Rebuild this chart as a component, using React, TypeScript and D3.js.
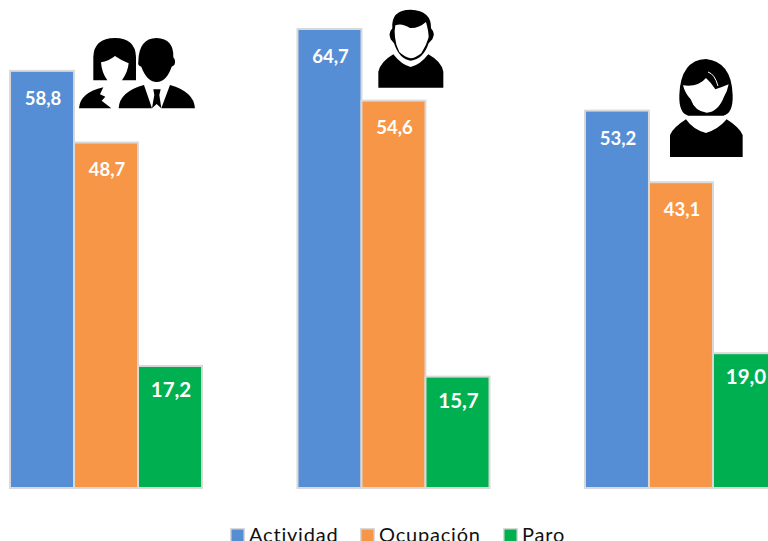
import React from 'react';
import * as d3 from 'd3';

// Tasas de actividad, ocupación y paro: total, hombres, mujeres.
const groups = ['Total', 'Hombres', 'Mujeres'];
const seriesNames = ['Actividad', 'Ocupación', 'Paro'];
const seriesColors = ['#558ed5', '#f79646', '#00b050'];
const actividad = [58.8, 64.7, 53.2];
const ocupacion = [48.7, 54.6, 43.1];
const paro = [17.2, 15.7, 19.0];
const seriesValues = [actividad, ocupacion, paro];

const WIDTH = 768;
const HEIGHT = 541;
const BASE_Y = 488;

// Paro labels are a bit bigger and sit closer to the top of their bar.
const labelSize = [18.5, 18.5, 20.5];
const labelOffset = [28, 27, 24];

const fmt = (v: number) => v.toFixed(1).replace('.', ',');

// Icons are traced at 3x from the picture, hence scale(1/3) on each group.
function CoupleIcon() {
  return (
    <g transform="scale(0.3333)">
      <path d="M280,241 L280,170 Q282,115 345,114 Q406,115 408,170 L408,241 L366,241 Q384,215 386,190 Q365,182 345,168 Q325,184 303,187 Q305,218 322,241 Z" />
      <path d="M237,325 Q240,278 310,262 L300,283 L316,290 L305,302 L334,325 Z" />
      <path d="M415,185 Q416,115 470,114 Q522,116 520,172 Q529,182 523,195 L515,200 Q500,245 470,246 Q440,245 424,200 Q412,197 415,185 Z" />
      <path d="M356,325 Q358,275 432,255 L456,325 Z" />
      <path d="M510,255 Q582,275 585,325 L484,325 Z" />
      <path d="M460,268 L482,268 L478,285 L484,325 L470,312 L456,325 L463,285 Z" />
    </g>
  );
}

function ManIcon() {
  return (
    <g transform="scale(0.3333)">
      <path d="M55,263 L55,215 Q62,185 100,163 Q125,195 152,201 Q180,195 205,163 Q245,185 250,215 L250,263 Z" />
      <path d="M97,85 Q92,30 152,29 Q215,32 213,85 Q227,100 217,118 L206,130 Q190,178 152,182 Q118,178 102,130 L92,118 Q84,100 97,85 Z" />
      <path fill="#fff" d="M106,76 Q125,68 150,84 Q175,86 198,66 Q206,95 206,112 Q200,135 184,160 Q165,175 152,175 Q135,172 118,156 Q107,135 105,112 Q102,95 106,76 Z" />
    </g>
  );
}

function WomanIcon() {
  return (
    <g transform="scale(0.3333)">
      <path d="M60,321 L60,255 Q70,232 108,208 Q130,240 168,249 Q205,238 230,208 Q268,232 278,255 L278,321 Z" />
      <path d="M88,135 Q92,30 168,27 Q245,35 248,135 Q250,190 220,197 L115,197 Q86,190 88,135 Z" />
      <path fill="#fff" d="M99,106 Q145,112 168,84 Q182,96 196,118 Q215,112 236,103 Q232,125 222,140 Q205,185 170,188 Q135,185 122,148 Q105,130 99,106 Z" />
      <path fill="none" stroke="#fff" strokeWidth="3" d="M174,66 Q194,72 204,108" />
    </g>
  );
}

const iconPlacements = [
  { key: 'couple', x: 0, y: 0, Icon: CoupleIcon },
  { key: 'man', x: 360, y: 0, Icon: ManIcon },
  { key: 'woman', x: 650, y: 50, Icon: WomanIcon },
];

const legendX = [230, 360, 503];

export default function App() {
  const x0 = d3.scaleBand<string>().domain(groups).range([10, 777]).paddingInner(0.332);
  const x1 = d3.scaleBand<string>().domain(seriesNames).range([0, x0.bandwidth()]);
  const y = d3.scaleLinear().domain([0, 64.7]).range([BASE_Y, 29]);

  return (
    <svg
      width={WIDTH}
      height={HEIGHT}
      style={{ position: 'absolute', top: 0, left: 0, background: '#fff' }}
      fontFamily="Lato, sans-serif"
    >
      {groups.map((g, gi) => (
        <g key={g} transform={`translate(${x0(g)},0)`}>
          {seriesNames.map((s, si) => {
            const v = seriesValues[si][gi];
            const bx = x1(s) ?? 0;
            return (
              <g key={s}>
                <rect
                  x={bx}
                  y={y(v)}
                  width={x1.bandwidth()}
                  height={BASE_Y - y(v)}
                  fill={seriesColors[si]}
                  stroke="#d9d9d9"
                  strokeWidth={2}
                />
                <text
                  x={bx + x1.bandwidth() / 2 + 1}
                  y={y(v) + labelOffset[si]}
                  dy="0.35em"
                  textAnchor="middle"
                  fontSize={labelSize[si]}
                  fontWeight={700}
                  fill="#fff"
                >
                  {fmt(v)}
                </text>
              </g>
            );
          })}
        </g>
      ))}

      {iconPlacements.map(({ key, x, y: iy, Icon }) => (
        <g key={key} transform={`translate(${x},${iy})`}>
          <Icon />
        </g>
      ))}

      {seriesNames.map((s, i) => (
        <g key={s} transform={`translate(${legendX[i]},528)`}>
          <rect x={0.75} y={0.75} width={13.5} height={14} fill={seriesColors[i]} stroke="#d9d9d9" strokeWidth={1.5} />
          <text x={19} y={13.5} fontSize={20} fill="#111" letterSpacing={0.8}>
            {s}
          </text>
        </g>
      ))}
    </svg>
  );
}
